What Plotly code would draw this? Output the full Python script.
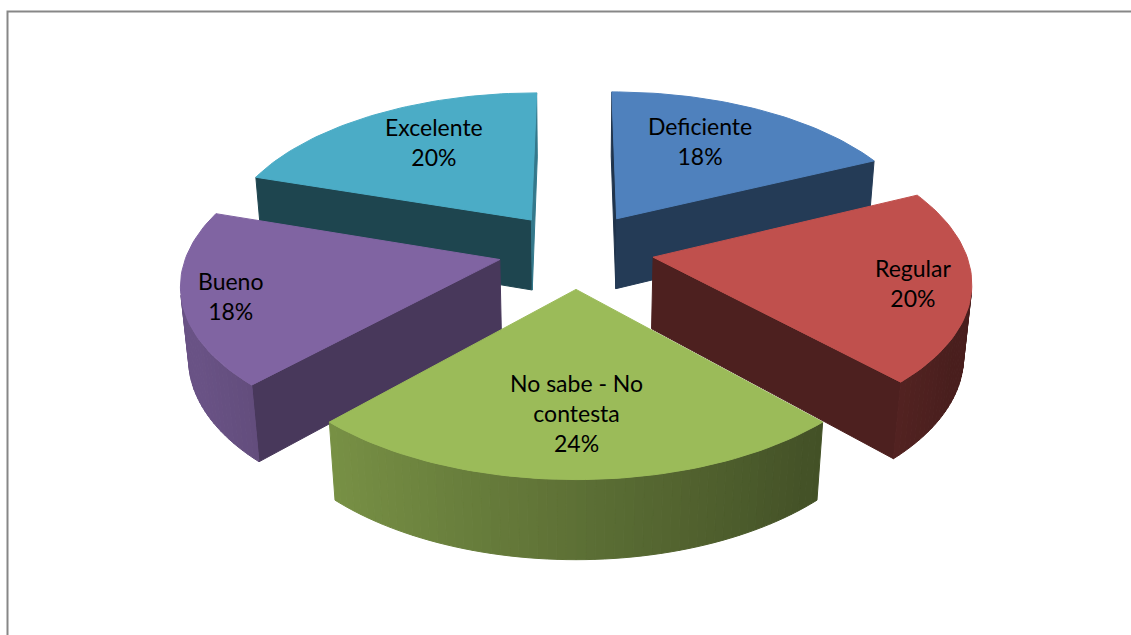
import numpy as np
import plotly.graph_objects as go

# ---------------- data ----------------
categories = ["Deficiente", "Regular", "No sabe - No contesta", "Bueno", "Excelente"]
label_lines = ["Deficiente", "Regular", "No sabe - No<br>contesta", "Bueno", "Excelente"]
percent = [18, 20, 24, 18, 20]

# ---------------- styling ----------------
top_colors = ["#4F81BD", "#C0504D", "#9BBB59", "#8064A2", "#4BACC6"]
label_radius = [0.56, 0.82, 0.685, 0.85, 0.60]   # along each slice's mid-angle
label_yshift = [14, -2, 0, -3, 12]               # pixels, positive = up

FIG_W, FIG_H = 1131, 635
CX, CY = 576.0, 250.0          # projected pie centre
SCALE = 312.0                  # pixels per pie radius at the centre depth
K = 7.3                        # viewing distance / radius
TILT = np.radians(29.2)        # elevation of the view
EXPLODE = 0.25                 # slice offset, fraction of radius
DEPTH = 0.267                  # pie thickness, fraction of radius
STEP = np.radians(1.5)

sa, ca = np.sin(TILT), np.cos(TILT)
DP = K * ca
CAM = np.array([0.0, DP * sa, -DP * ca])  # camera position (X, Y, Z)


def project(X, Y, Z):
    X, Y, Z = (np.asarray(a, dtype=float) for a in (X, Y, Z))
    w = DP + Z * ca - Y * sa
    v = Z * sa + Y * ca
    return CX + SCALE * DP * X / w, CY - SCALE * DP * v / w


def shade(hex_color, f):
    h = hex_color.lstrip("#")
    r, g, b = (int(h[i:i + 2], 16) for i in (0, 2, 4))
    return "rgb({},{},{})".format(*(int(round(min(255, c * f))) for c in (r, g, b)))


def visible(point, normal):
    return float(np.dot(CAM - np.asarray(point), np.asarray(normal))) > 0


def side_factor(phi):
    # curved wall lighting: light comes from the left
    return float(np.clip(0.6 - 0.25 * np.sin(phi), 0.38, 0.82))


def radial_factor(phi):
    return 0.4 + 0.3 * max(0.0, np.cos(phi - np.pi / 2)) ** 2


def poly(xs, ys, color):
    xs = list(xs) + [xs[0]]
    ys = list(ys) + [ys[0]]
    return go.Scatter(x=xs, y=ys, mode="lines", fill="toself", fillcolor=color,
                      line=dict(color=color, width=1), hoverinfo="skip",
                      showlegend=False)


total = float(sum(percent))
fractions = [p / total for p in percent]
starts = np.concatenate([[0.0], np.cumsum(fractions)[:-1]]) * 2 * np.pi
ends = starts + np.array(fractions) * 2 * np.pi

slices = []
for i in range(len(percent)):
    t0, t1 = starts[i], ends[i]
    m = 0.5 * (t0 + t1)
    ox, oz = EXPLODE * np.sin(m), EXPLODE * np.cos(m)
    n = max(2, int(np.ceil((t1 - t0) / STEP)))
    th = np.linspace(t0, t1, n + 1)
    centre = np.array([ox + 0.5 * np.sin(m), 0.0, oz + 0.5 * np.cos(m)])
    dist = np.linalg.norm(CAM - centre)
    slices.append(dict(i=i, t0=t0, t1=t1, m=m, ox=ox, oz=oz, th=th, dist=dist))

traces = []
for s in sorted(slices, key=lambda d: -d["dist"]):
    i, th, ox, oz = s["i"], s["th"], s["ox"], s["oz"]
    col = top_colors[i]

    # radial walls
    for edge, nphi in ((s["t0"], s["t0"] - np.pi / 2), (s["t1"], s["t1"] + np.pi / 2)):
        normal = np.array([np.sin(nphi), 0.0, np.cos(nphi)])
        mid = np.array([ox + 0.5 * np.sin(edge), -DEPTH / 2, oz + 0.5 * np.cos(edge)])
        if visible(mid, normal):
            X = [ox, ox + np.sin(edge), ox + np.sin(edge), ox]
            Z = [oz, oz + np.cos(edge), oz + np.cos(edge), oz]
            Y = [0, 0, -DEPTH, -DEPTH]
            px, py = project(X, Y, Z)
            traces.append(poly(px, py, shade(col, radial_factor(nphi))))

    # curved outer wall, drawn in thin strips for the lighting gradient
    for a, b in zip(th[:-1], th[1:]):
        c = 0.5 * (a + b)
        normal = np.array([np.sin(c), 0.0, np.cos(c)])
        mid = np.array([ox + np.sin(c), -DEPTH / 2, oz + np.cos(c)])
        if visible(mid, normal):
            X = [ox + np.sin(a), ox + np.sin(b), ox + np.sin(b), ox + np.sin(a)]
            Z = [oz + np.cos(a), oz + np.cos(b), oz + np.cos(b), oz + np.cos(a)]
            Y = [0, 0, -DEPTH, -DEPTH]
            px, py = project(X, Y, Z)
            traces.append(poly(px, py, shade(col, side_factor(c))))

    # top face
    X = np.concatenate([[ox], ox + np.sin(th)])
    Z = np.concatenate([[oz], oz + np.cos(th)])
    px, py = project(X, np.zeros_like(X), Z)
    top = poly(px, py, col)
    top.update(hoverinfo="text", hoveron="fills",
               text=f"{categories[i]}: {percent[i]}%")
    traces.append(top)

fig = go.Figure(traces)

annotations = []
for s in slices:
    i = s["i"]
    t = EXPLODE + label_radius[i]
    lx, ly = project(t * np.sin(s["m"]), 0.0, t * np.cos(s["m"]))
    annotations.append(dict(
        x=float(lx), y=float(ly), xref="x", yref="y", showarrow=False,
        text=f"{label_lines[i]}<br>{percent[i]}%", align="center",
        xanchor="center", yanchor="middle", yshift=label_yshift[i],
        font=dict(family="Lato, 'Open Sans', sans-serif", size=23, color="black"),
    ))

fig.update_layout(
    width=FIG_W, height=FIG_H,
    margin=dict(l=0, r=0, t=0, b=0),
    paper_bgcolor="white", plot_bgcolor="white",
    showlegend=False,
    xaxis=dict(range=[0, FIG_W], visible=False, fixedrange=True),
    yaxis=dict(range=[FIG_H, 0], visible=False, fixedrange=True),
    annotations=annotations,
    shapes=[dict(type="rect", xref="x", yref="y", x0=7.5, y0=11.5,
                 x1=FIG_W + 50, y1=FIG_H + 50,
                 line=dict(color="#878787", width=2), layer="below")],
)

fig.write_html("out.html")
